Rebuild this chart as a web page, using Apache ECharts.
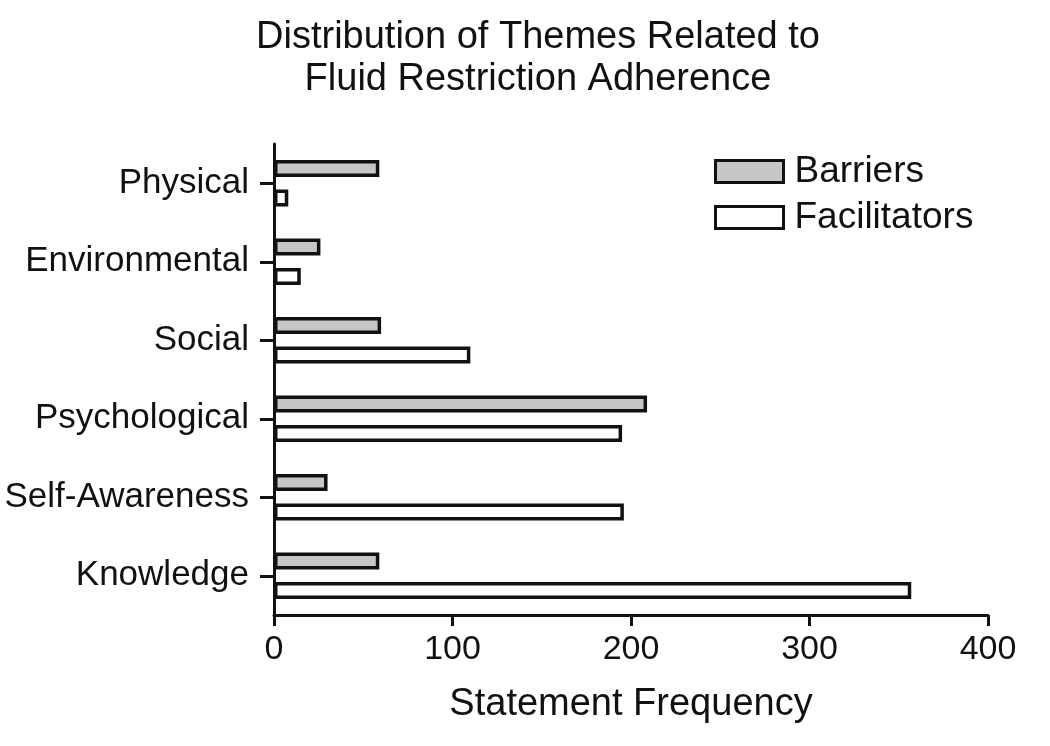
<!DOCTYPE html>
<html>
<head>
<meta charset="utf-8">
<script src="https://cdn.jsdelivr.net/npm/echarts@6/dist/echarts.min.js"></script>
<style>
html,body{margin:0;padding:0;background:#fff;}
#chart{width:1050px;height:746px;}
</style>
</head>
<body>
<div id="chart"></div>
<script>
const categories = ['Physical', 'Environmental', 'Social', 'Psychological', 'Self-Awareness', 'Knowledge'];
const barriers = [59, 26, 60, 209, 30, 59];
const facilitators = [8, 15, 110, 195, 196, 357];
const xTicks = { min: 0, max: 400, interval: 100 };
const titleText = 'Distribution of Themes Related to\nFluid Restriction Adherence';
const xAxisName = 'Statement Frequency';

const FONT = '"Liberation Sans", Arial, sans-serif';
const chart = echarts.init(document.getElementById('chart'), null, { renderer: 'canvas' });
chart.setOption({
  backgroundColor: '#ffffff',
  animation: false,
  title: {
    text: titleText,
    left: 533,
    top: 12,
    textAlign: 'center',
    textStyle: { fontFamily: FONT, fontSize: 38, fontWeight: 'normal', color: '#111', lineHeight: 42, align: 'center' }
  },
  legend: {
    orient: 'vertical',
    left: 714,
    top: 153,
    padding: 0,
    icon: 'rect',
    itemWidth: 68,
    itemHeight: 22,
    itemGap: 9,
    textStyle: { fontFamily: FONT, fontSize: 37, color: '#111', padding: [0, 0, 0, 6] },
    data: [
      { name: 'Barriers', itemStyle: { color: '#c6c6c6', borderColor: '#111', borderWidth: 3 } },
      { name: 'Facilitators', itemStyle: { color: '#ffffff', borderColor: '#111', borderWidth: 3 } }
    ]
  },
  grid: { left: 274, right: 62, top: 144, bottom: 131, containLabel: false },
  xAxis: {
    type: 'value',
    min: xTicks.min, max: xTicks.max, interval: xTicks.interval,
    name: xAxisName,
    nameLocation: 'middle',
    nameGap: 71,
    nameTextStyle: { fontFamily: FONT, fontSize: 38, color: '#111' },
    axisLine: { show: true, lineStyle: { color: '#111', width: 3 } },
    axisTick: { show: true, length: 11, lineStyle: { color: '#111', width: 3 } },
    axisLabel: { fontFamily: FONT, fontSize: 34, color: '#111', margin: 18 },
    splitLine: { show: false }
  },
  yAxis: {
    type: 'category',
    data: categories,
    inverse: true,
    axisLine: { show: true, lineStyle: { color: '#111', width: 3 } },
    axisTick: { show: true, alignWithLabel: true, length: 14, lineStyle: { color: '#111', width: 3 } },
    axisLabel: { fontFamily: FONT, fontSize: 35, color: '#111', margin: 25 }
  },
  series: [
    {
      name: 'Barriers', type: 'bar', data: barriers,
      barWidth: 17, barGap: '73%',
      itemStyle: { color: '#c6c6c6', borderColor: '#111', borderWidth: 3.5 }
    },
    {
      name: 'Facilitators', type: 'bar', data: facilitators,
      barWidth: 17, barGap: '73%',
      itemStyle: { color: '#ffffff', borderColor: '#111', borderWidth: 3.5 }
    }
  ]
});
</script>
</body>
</html>
